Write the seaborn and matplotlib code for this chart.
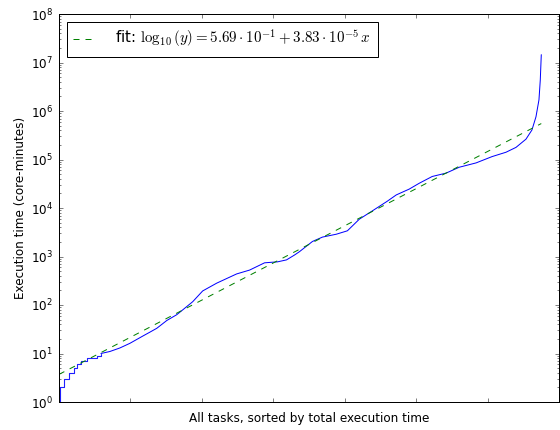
import numpy as np
import pandas as pd
import matplotlib
matplotlib.use("Agg")
import matplotlib.pyplot as plt
import seaborn as sns
from matplotlib.ticker import LogLocator, NullFormatter, MultipleLocator, FixedLocator

# ---- data ----
step_rank = [0, 280, 1400, 2800, 4190, 5030, 6150, 7820, 10620, 11740]
step_time = [1, 2, 3, 4, 5, 6, 7, 8, 9, 10]

curve_rank = [11740, 14250, 17040, 19840, 23470, 25430, 27380, 30180, 32970, 34650,
              37440, 40230, 44150, 49730, 53370, 57560, 61190, 63700, 65940, 67340,
              70970, 73760, 77670, 80750, 84100, 87730, 91920, 94440, 98070, 100860,
              104500, 108410, 112040, 116790, 121260, 125170, 127960, 130760, 132430,
              133550, 134390, 134760, 135040]
curve_time = [10, 11, 13, 16.2, 22.9, 27.5, 33.1, 47.9, 63.1, 79.4,
              117, 195, 282, 437, 525, 741, 776, 851, 1072, 1259,
              2042, 2512, 2884, 3388, 5888, 8710, 13800, 18620, 24550, 32360,
              44670, 52480, 69180, 85110, 114800, 141300, 177800, 263000, 407400,
              758600, 1.7e6, 4.37e6, 1.45e7]

fit_intercept = 0.569
fit_slope = 3.83e-5
fit_range = [0, 135040]

y_major = [1e0, 1e1, 1e2, 1e3, 1e4, 1e5, 1e6, 1e7, 1e8]

# ---- style ----
sns.set_style("white")
plt.rcParams.update({
    "font.family": ["DejaVu Sans"],
    "font.size": 12,
    "mathtext.fontset": "cm",
    "xtick.direction": "in",
    "ytick.direction": "in",
    "xtick.top": True,
    "ytick.right": True,
    "xtick.major.size": 4,
    "ytick.major.size": 4,
    "ytick.minor.size": 2,
    "xtick.major.width": 0.5,
    "ytick.major.width": 0.5,
    "ytick.minor.width": 0.5,
    "axes.linewidth": 1.0,
    "axes.edgecolor": "black",
    "xtick.color": "black",
    "ytick.color": "black",
    "text.color": "black",
    "axes.labelcolor": "black",
})

fig = plt.figure(figsize=(560 / 72, 430 / 72), dpi=72)
ax = fig.add_axes([59 / 560, 1 - 402 / 430, 500 / 560, 388 / 430])

steps = pd.DataFrame({"rank": step_rank, "time": step_time})
curve = pd.DataFrame({"rank": curve_rank, "time": curve_time})
fit = pd.DataFrame({"rank": fit_range,
                    "time": [10 ** (fit_intercept + fit_slope * r) for r in fit_range]})

sns.lineplot(data=steps, x="rank", y="time", ax=ax, color="#1f1fff", lw=1.1,
             drawstyle="steps-post", legend=False)
sns.lineplot(data=curve, x="rank", y="time", ax=ax, color="#0000ff", lw=1.0,
             legend=False)
sns.lineplot(data=fit, x="rank", y="time", ax=ax, color="#008000", lw=1.0,
             linestyle=(0, (6, 6)),
             label=r"fit: $\log_{10}(y) = 5.69\cdot 10^{-1} + 3.83\cdot 10^{-5}\,x$")

ax.set_yscale("log")
ax.set_ylim(1, 1e8)
ax.set_xlim(0, 140000)
ax.xaxis.set_major_locator(MultipleLocator(20000))
ax.xaxis.set_major_formatter(NullFormatter())
ax.yaxis.set_major_locator(FixedLocator(y_major))
ax.yaxis.set_minor_locator(LogLocator(base=10, subs=np.arange(2, 10), numticks=20))
ax.yaxis.set_minor_formatter(NullFormatter())
ax.tick_params(axis="both", which="both", direction="in", top=True, right=True,
               bottom=True, left=True, labelsize=12, pad=6)

ax.set_xlabel("All tasks, sorted by total execution time", fontsize=12)
ax.set_ylabel("Execution time (core-minutes)", fontsize=12)

leg = ax.legend(loc="upper left", fontsize=15, frameon=True, fancybox=False,
                edgecolor="black", framealpha=1, handlelength=1.5,
                handletextpad=1.3, borderpad=0.45, borderaxespad=0.5)
leg.get_frame().set_linewidth(1.0)

for s in ax.spines.values():
    s.set_visible(True)
    s.set_color("black")

fig.savefig("out.png", dpi=72, facecolor="white")
